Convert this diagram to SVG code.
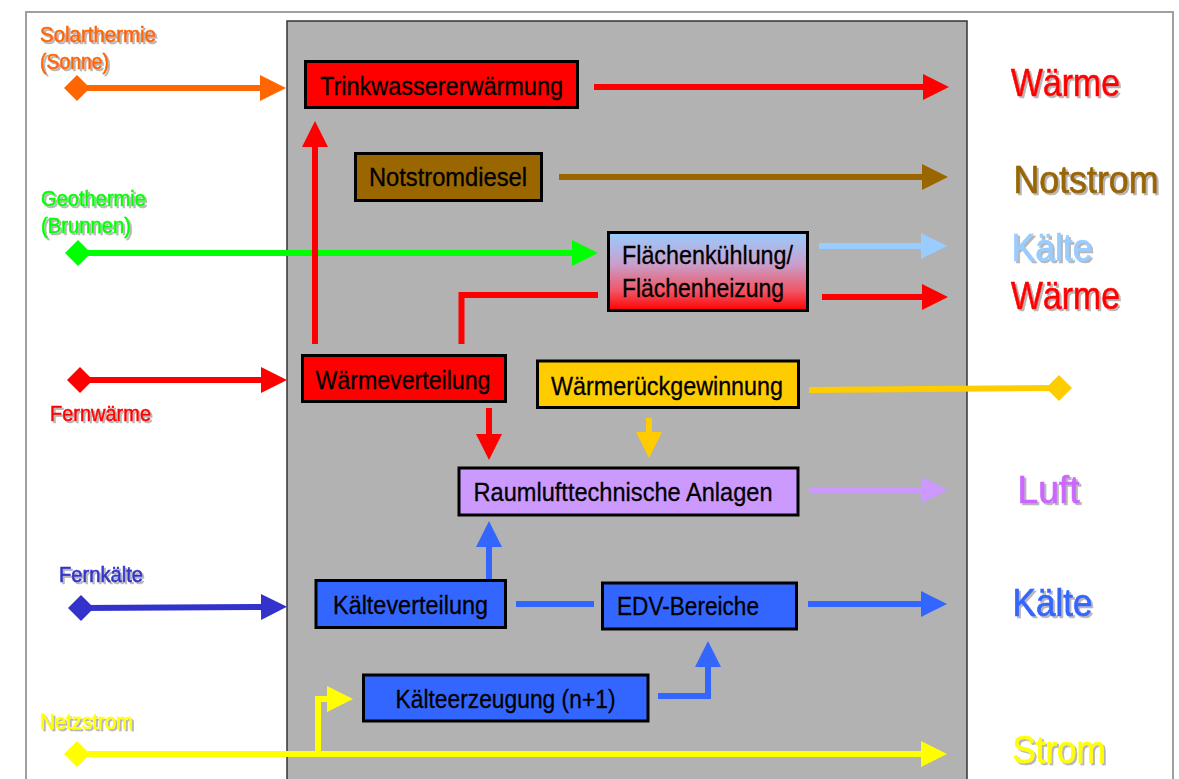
<svg xmlns="http://www.w3.org/2000/svg" width="1179" height="779" viewBox="0 0 1179 779">
  <defs>
    <style>
      text { font-family: "Liberation Sans", Arial, sans-serif; }
      .box { stroke: #000; stroke-width: 3; }
      .bt { font-size: 26px; fill: #000; stroke: #000; stroke-width: 0.3; }
      .src { font-size: 21.5px; stroke-width: 0.55; filter: url(#shadow); }
      .out { font-size: 39px; stroke-width: 0.7; filter: url(#shadow); }
      .ln { fill: none; stroke-width: 6; stroke-linejoin: miter; }
    </style>
    <filter id="shadow" x="-10%" y="-20%" width="130%" height="150%">
      <feDropShadow dx="2" dy="2" stdDeviation="0.7" flood-color="#7a7a7a" flood-opacity="0.55"/>
    </filter>
    <linearGradient id="fl-grad" x1="0" y1="0" x2="0" y2="1">
      <stop offset="0" stop-color="#99ccff"/>
      <stop offset="0.4" stop-color="#c8a0cc"/>
      <stop offset="0.75" stop-color="#f05565"/>
      <stop offset="1" stop-color="#ff0000"/>
    </linearGradient>
    <!-- arrowheads: 26 long, 26 wide, attached at the base -->
    <marker id="ah-orange" viewBox="0 0 26 26" refX="0" refY="13" markerWidth="26" markerHeight="26" markerUnits="userSpaceOnUse" orient="auto"><path d="M0,0 L26,13 L0,26 z" fill="#ff6600"/></marker>
    <marker id="ah-green" viewBox="0 0 26 26" refX="0" refY="13" markerWidth="26" markerHeight="26" markerUnits="userSpaceOnUse" orient="auto"><path d="M0,0 L26,13 L0,26 z" fill="#00ff00"/></marker>
    <marker id="ah-red" viewBox="0 0 26 26" refX="0" refY="13" markerWidth="26" markerHeight="26" markerUnits="userSpaceOnUse" orient="auto"><path d="M0,0 L26,13 L0,26 z" fill="#ff0000"/></marker>
    <marker id="ah-navy" viewBox="0 0 26 26" refX="0" refY="13" markerWidth="26" markerHeight="26" markerUnits="userSpaceOnUse" orient="auto"><path d="M0,0 L26,13 L0,26 z" fill="#3333cc"/></marker>
    <marker id="ah-yellow" viewBox="0 0 26 26" refX="0" refY="13" markerWidth="26" markerHeight="26" markerUnits="userSpaceOnUse" orient="auto"><path d="M0,0 L26,13 L0,26 z" fill="#ffff00"/></marker>
    <marker id="ah-brown" viewBox="0 0 26 26" refX="0" refY="13" markerWidth="26" markerHeight="26" markerUnits="userSpaceOnUse" orient="auto"><path d="M0,0 L26,13 L0,26 z" fill="#996600"/></marker>
    <marker id="ah-sky" viewBox="0 0 26 26" refX="0" refY="13" markerWidth="26" markerHeight="26" markerUnits="userSpaceOnUse" orient="auto"><path d="M0,0 L26,13 L0,26 z" fill="#99ccff"/></marker>
    <marker id="ah-gold" viewBox="0 0 26 26" refX="0" refY="13" markerWidth="26" markerHeight="26" markerUnits="userSpaceOnUse" orient="auto"><path d="M0,0 L26,13 L0,26 z" fill="#ffcc00"/></marker>
    <marker id="ah-lilac" viewBox="0 0 26 26" refX="0" refY="13" markerWidth="26" markerHeight="26" markerUnits="userSpaceOnUse" orient="auto"><path d="M0,0 L26,13 L0,26 z" fill="#cc99ff"/></marker>
    <marker id="ah-blue" viewBox="0 0 26 26" refX="0" refY="13" markerWidth="26" markerHeight="26" markerUnits="userSpaceOnUse" orient="auto"><path d="M0,0 L26,13 L0,26 z" fill="#3366ff"/></marker>
    <!-- diamond end points -->
    <marker id="dm-orange" viewBox="0 0 26 26" refX="13" refY="13" markerWidth="26" markerHeight="26" markerUnits="userSpaceOnUse"><path d="M0,13 L13,0 L26,13 L13,26 z" fill="#ff6600"/></marker>
    <marker id="dm-green" viewBox="0 0 26 26" refX="13" refY="13" markerWidth="26" markerHeight="26" markerUnits="userSpaceOnUse"><path d="M0,13 L13,0 L26,13 L13,26 z" fill="#00ff00"/></marker>
    <marker id="dm-red" viewBox="0 0 26 26" refX="13" refY="13" markerWidth="26" markerHeight="26" markerUnits="userSpaceOnUse"><path d="M0,13 L13,0 L26,13 L13,26 z" fill="#ff0000"/></marker>
    <marker id="dm-navy" viewBox="0 0 26 26" refX="13" refY="13" markerWidth="26" markerHeight="26" markerUnits="userSpaceOnUse"><path d="M0,13 L13,0 L26,13 L13,26 z" fill="#3333cc"/></marker>
    <marker id="dm-yellow" viewBox="0 0 26 26" refX="13" refY="13" markerWidth="26" markerHeight="26" markerUnits="userSpaceOnUse"><path d="M0,13 L13,0 L26,13 L13,26 z" fill="#ffff00"/></marker>
    <marker id="dm-gold" viewBox="0 0 26 26" refX="13" refY="13" markerWidth="26" markerHeight="26" markerUnits="userSpaceOnUse"><path d="M0,13 L13,0 L26,13 L13,26 z" fill="#ffcc00"/></marker>
  </defs>

  <!-- background, frame and building block -->
  <rect x="0" y="0" width="1179" height="779" fill="#ffffff"/>
  <rect x="26" y="12" width="1147" height="800" fill="#ffffff" stroke="#a0a0a0" stroke-width="2"/>
  <rect id="building" x="287" y="21" width="680" height="790" fill="#b2b2b2" stroke="#333333" stroke-width="1.5"/>

  <!-- supply labels -->
  <g id="supply-labels">
    <text class="src" x="40" y="42" fill="#ff6600" stroke="#ff6600" textLength="116" lengthAdjust="spacingAndGlyphs">Solarthermie</text>
    <text class="src" x="40" y="69" fill="#ff6600" stroke="#ff6600" textLength="69" lengthAdjust="spacingAndGlyphs">(Sonne)</text>
    <text class="src" x="41" y="206" fill="#00ff00" stroke="#00ff00" textLength="105" lengthAdjust="spacingAndGlyphs">Geothermie</text>
    <text class="src" x="41" y="233" fill="#00ff00" stroke="#00ff00" textLength="90" lengthAdjust="spacingAndGlyphs">(Brunnen)</text>
    <text class="src" x="50" y="421" fill="#ff0000" stroke="#ff0000" textLength="101" lengthAdjust="spacingAndGlyphs">Fernwärme</text>
    <text class="src" x="59" y="582" fill="#3333cc" stroke="#3333cc" textLength="84" lengthAdjust="spacingAndGlyphs">Fernkälte</text>
    <text class="src" x="40" y="729" fill="#ffff00" stroke="#ffff00" textLength="93" lengthAdjust="spacingAndGlyphs">Netzstrom</text>
  </g>

  <!-- output labels -->
  <g id="output-labels">
    <text class="out" x="1011" y="95.5" fill="#ff0000" stroke="#ff0000" textLength="109" lengthAdjust="spacingAndGlyphs">Wärme</text>
    <text class="out" x="1013.5" y="192.5" fill="#996600" stroke="#996600" textLength="145" lengthAdjust="spacingAndGlyphs">Notstrom</text>
    <text class="out" x="1011.5" y="261" fill="#99ccff" stroke="#99ccff" textLength="81" lengthAdjust="spacingAndGlyphs">Kälte</text>
    <text class="out" x="1011" y="308.5" fill="#ff0000" stroke="#ff0000" textLength="109" lengthAdjust="spacingAndGlyphs">Wärme</text>
    <text class="out" x="1017.5" y="502.5" fill="#cc66ff" stroke="#cc66ff" textLength="62" lengthAdjust="spacingAndGlyphs">Luft</text>
    <text class="out" x="1012.5" y="616" fill="#3366ff" stroke="#3366ff" textLength="80" lengthAdjust="spacingAndGlyphs">Kälte</text>
    <text class="out" x="1012.5" y="763" fill="#ffff00" stroke="#ffff00" textLength="93" lengthAdjust="spacingAndGlyphs">Strom</text>
  </g>

  <!-- connectors -->
  <g id="connectors" class="ln">
    <path class="ln" d="M77,88 H260" stroke="#ff6600" marker-start="url(#dm-orange)" marker-end="url(#ah-orange)"/>
    <path class="ln" d="M78,253 H572" stroke="#00ff00" marker-start="url(#dm-green)" marker-end="url(#ah-green)"/>
    <path class="ln" d="M80,380 H261" stroke="#ff0000" marker-start="url(#dm-red)" marker-end="url(#ah-red)"/>
    <path class="ln" d="M81,608 L261,607" stroke="#3333cc" marker-start="url(#dm-navy)" marker-end="url(#ah-navy)"/>
    <path class="ln" d="M77,754 H921" stroke="#ffff00" marker-start="url(#dm-yellow)" marker-end="url(#ah-yellow)"/>
    <path class="ln" d="M318,754 V699 H327" stroke="#ffff00" marker-end="url(#ah-yellow)"/>
    <path class="ln" d="M315,344 V147" stroke="#ff0000" marker-end="url(#ah-red)"/>
    <path class="ln" d="M594,87 H923" stroke="#ff0000" marker-end="url(#ah-red)"/>
    <path class="ln" d="M559,177 H922" stroke="#996600" marker-end="url(#ah-brown)"/>
    <path class="ln" d="M819,246 H921" stroke="#99ccff" marker-end="url(#ah-sky)"/>
    <path class="ln" d="M822,297 H922" stroke="#ff0000" marker-end="url(#ah-red)"/>
    <path class="ln" d="M598,295 H461.5 V344" stroke="#ff0000"/>
    <path class="ln" d="M489,408 V434" stroke="#ff0000" marker-end="url(#ah-red)"/>
    <path class="ln" d="M649,418 V432" stroke="#ffcc00" marker-end="url(#ah-gold)"/>
    <path class="ln" d="M809,390 L1059,388" stroke="#ffcc00" marker-end="url(#dm-gold)"/>
    <path class="ln" d="M809,490 H922" stroke="#cc99ff" marker-end="url(#ah-lilac)"/>
    <path class="ln" d="M489,579 V547" stroke="#3366ff" marker-end="url(#ah-blue)"/>
    <path class="ln" d="M516,604 H594" stroke="#3366ff"/>
    <path class="ln" d="M808,604 H921" stroke="#3366ff" marker-end="url(#ah-blue)"/>
    <path class="ln" d="M658,696 H708 V667" stroke="#3366ff" marker-end="url(#ah-blue)"/>
  </g>

  <!-- nodes -->
  <g id="trinkwassererwaermung">
    <rect class="box" x="305.5" y="61.5" width="272" height="46" fill="#ff0000"/>
    <text class="bt" x="320" y="95" textLength="243" lengthAdjust="spacingAndGlyphs">Trinkwassererwärmung</text>
  </g>
  <g id="notstromdiesel">
    <rect class="box" x="355.5" y="153.5" width="186" height="47" fill="#996600"/>
    <text class="bt" x="369" y="186" textLength="158" lengthAdjust="spacingAndGlyphs">Notstromdiesel</text>
  </g>
  <g id="flaechenkuehlung">
    <rect class="box" x="608.5" y="232.5" width="199" height="78" fill="url(#fl-grad)"/>
    <text class="bt" x="622" y="264" textLength="171" lengthAdjust="spacingAndGlyphs">Flächenkühlung/</text>
    <text class="bt" x="622" y="297" textLength="162" lengthAdjust="spacingAndGlyphs">Flächenheizung</text>
  </g>
  <g id="waermeverteilung">
    <rect class="box" x="302.5" y="355.5" width="203" height="46" fill="#ff0000"/>
    <text class="bt" x="315.5" y="389" textLength="175" lengthAdjust="spacingAndGlyphs">Wärmeverteilung</text>
  </g>
  <g id="waermerueckgewinnung">
    <rect class="box" x="537.5" y="361" width="261" height="46.5" fill="#ffcc00"/>
    <text class="bt" x="551" y="395" textLength="232" lengthAdjust="spacingAndGlyphs">Wärmerückgewinnung</text>
  </g>
  <g id="raumlufttechnik">
    <rect class="box" x="459" y="468" width="339" height="47" fill="#cc99ff"/>
    <text class="bt" x="473.5" y="501" textLength="299" lengthAdjust="spacingAndGlyphs">Raumlufttechnische Anlagen</text>
  </g>
  <g id="kaelteverteilung">
    <rect class="box" x="316" y="580.5" width="189.5" height="47" fill="#3366ff"/>
    <text class="bt" x="333" y="614" textLength="155" lengthAdjust="spacingAndGlyphs">Kälteverteilung</text>
  </g>
  <g id="edv-bereiche">
    <rect class="box" x="602.5" y="583" width="194" height="46" fill="#3366ff"/>
    <text class="bt" x="617" y="615" textLength="142" lengthAdjust="spacingAndGlyphs">EDV-Bereiche</text>
  </g>
  <g id="kaelteerzeugung">
    <rect class="box" x="363.5" y="675" width="284.5" height="46" fill="#3366ff"/>
    <text class="bt" x="395.5" y="708" textLength="220" lengthAdjust="spacingAndGlyphs">Kälteerzeugung (n+1)</text>
  </g>
</svg>
